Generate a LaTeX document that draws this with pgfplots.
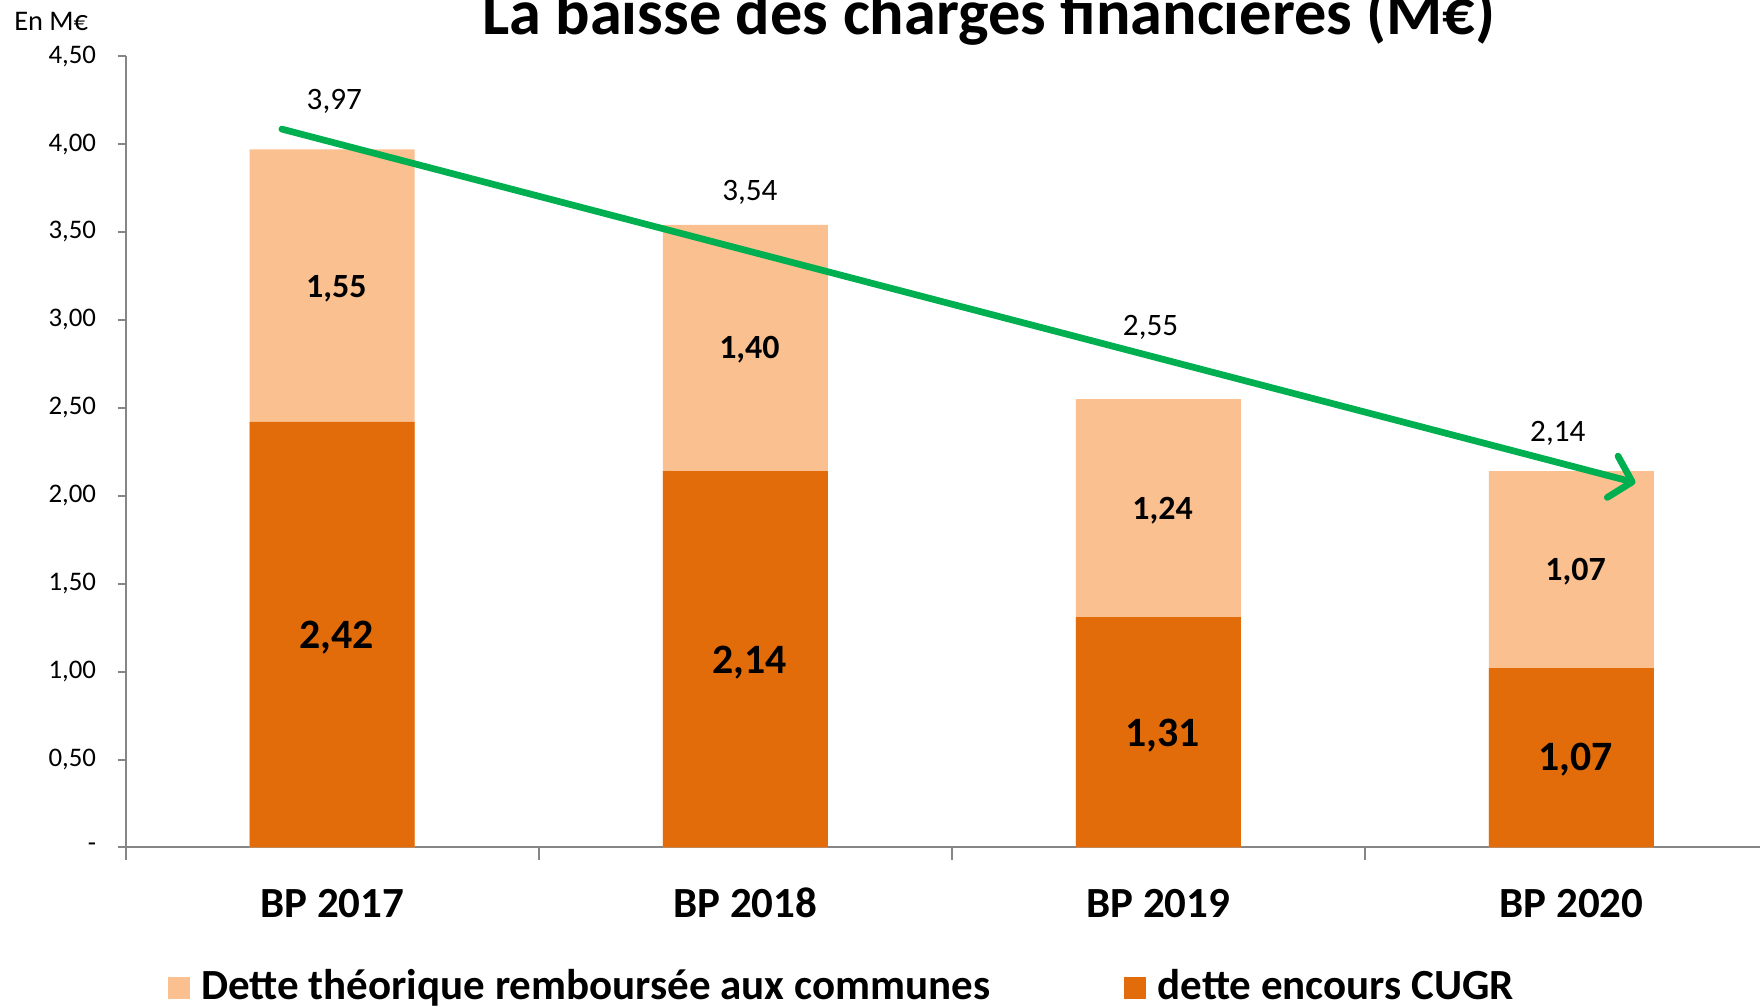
\documentclass[border=0pt]{standalone}
\usepackage{pgfplots}
\pgfplotsset{compat=1.18}
\usepackage{fontspec}
\setmainfont{Carlito}
\usetikzlibrary{arrows.meta}
\definecolor{darkor}{RGB}{227,108,10}
\definecolor{lightor}{RGB}{250,192,144}
\definecolor{arrowgreen}{RGB}{0,176,80}
\definecolor{axisgray}{RGB}{134,134,134}
\begin{document}
\begin{tikzpicture}
\path[use as bounding box] (0,0) rectangle (156.8mm,89.7mm);
\clip (0,0) rectangle (156.8mm,89.7mm);
% title and unit, cut by the page edge as in the original
\node[anchor=base, font=\fontsize{16.3}{18}\selectfont\bfseries] at (88.1mm,86.6mm) {La baisse des charges financières (M€)};
\node[anchor=base west, inner sep=0pt, font=\fontsize{7.2}{8}\selectfont] at (1.2mm,87.0mm) {En M€};
\begin{axis}[
    at={(11.2mm,14.2mm)}, anchor=south west,
    scale only axis, width=147.2mm, height=70.5mm,
    ybar, bar width=14.7mm, bar shift=0pt,
    xmin=-0.5, xmax=3.5, ymin=0, ymax=4.5,
    axis x line*=bottom, axis y line*=left,
    axis line style={draw=axisgray, line width=0.5pt, -},
    xtick={0,1,2,3},
    xticklabels={BP 2017,BP 2018,BP 2019,BP 2020},
    major x tick style={draw=none},
    minor xtick={-0.5,0.5,1.5,2.5},
    minor x tick style={draw=axisgray, line width=0.5pt},
    minor tick length=1.1mm,
    tick align=outside,
    ytick={0,0.5,...,4.5},
    yticklabels={{-},{0,50},{1,00},{1,50},{2,00},{2,50},{3,00},{3,50},{4,00},{4,50}},
    major y tick style={draw=axisgray, line width=0.5pt},
    major tick length=0.7mm,
    xticklabel style={anchor=base, yshift=-5.5mm, font=\fontsize{10.9}{12}\selectfont\bfseries},
    yticklabel style={anchor=east, xshift=-0.7mm, font=\fontsize{6.8}{8}\selectfont},
    legend image code/.code={\fill[#1] (0mm,-1mm) rectangle (2mm,1mm);},
    legend columns=2,
    legend cell align=left,
    legend style={at={(0.0178,-0.1773)}, anchor=west, draw=none, fill=none,
        font=\fontsize{10.9}{12}\selectfont\bfseries,
        /tikz/every odd column/.append style={column sep=0.3mm},
        /tikz/every even column/.append style={column sep=11.2mm}},
]
\addplot[fill=lightor, draw=none] coordinates {(0,3.97) (1,3.54) (2,2.55) (3,2.14)};
\addplot[fill=darkor, draw=none] coordinates {(0,2.42) (1,2.14) (2,1.31) (3,1.02)};
\legend{Dette théorique remboursée aux communes, dette encours CUGR}
% segment labels
\addplot[draw=none, fill=none, forget plot, nodes near coords, point meta=explicit symbolic,
    nodes near coords style={anchor=center, font=\fontsize{8.6}{10}\selectfont\bfseries}]
    coordinates {(0.01,3.179)[1,55] (1.01,2.828)[1,40] (2.01,1.915)[1,24] (3.01,1.570)[1,07]};
\addplot[draw=none, fill=none, forget plot, nodes near coords, point meta=explicit symbolic,
    nodes near coords style={anchor=center, font=\fontsize{10.6}{12}\selectfont\bfseries}]
    coordinates {(0.01,1.194)[2,42] (1.01,1.053)[2,14] (2.01,0.638)[1,31] (3.01,0.498)[1,07]};
% totals
\addplot[draw=none, fill=none, forget plot, nodes near coords, point meta=explicit symbolic,
    nodes near coords style={anchor=center, font=\fontsize{7.9}{9}\selectfont}]
    coordinates {(0.005,4.245)[3,97] (1.011,3.728)[3,54] (1.981,2.955)[2,55] (2.967,2.355)[2,14]};
\draw[arrowgreen, line width=1.7pt, line cap=round,
    -{Straight Barb[length=1.8mm, width=3.8mm, round]}]
    (axis cs:-0.122,4.085) -- (axis cs:3.155,2.074);
\end{axis}
\end{tikzpicture}
\end{document}
